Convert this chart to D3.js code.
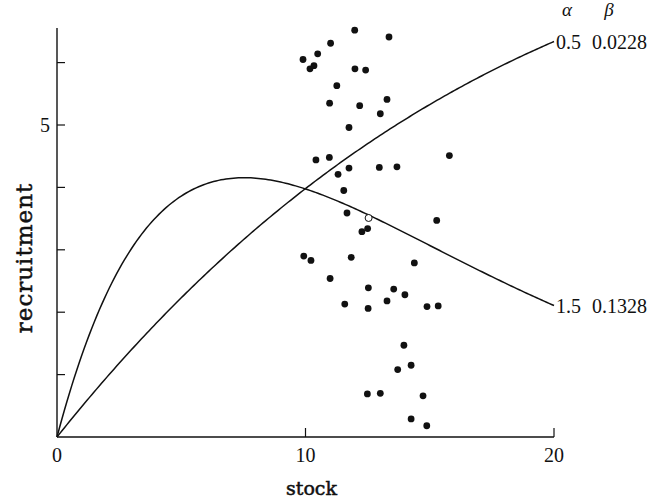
<!DOCTYPE html>
<html>
<head>
<meta charset="utf-8">
<script src="https://cdn.jsdelivr.net/npm/d3@7"></script>
<style>
  html, body { margin: 0; padding: 0; background: #fff; }
  svg text { fill: #111; }
</style>
</head>
<body>
<svg id="chart" width="656" height="502"></svg>
<script>
// observed stock / recruitment pairs (filled dots)
const stock = [
  11.98, 13.36, 11.01, 10.49, 9.90, 10.34, 10.18, 11.99, 12.42, 11.26,
  10.97, 12.18, 13.28, 13.01, 11.75, 10.42, 10.96, 15.79, 11.75, 11.31,
  12.97, 13.68, 11.54, 11.67, 12.50, 12.27, 15.28, 9.93, 10.22, 11.84,
  14.38, 10.99, 12.53, 13.55, 14.00, 11.58, 12.52, 13.28, 14.89, 15.34,
  13.96, 14.25, 13.71, 12.49, 13.01, 14.73, 14.25, 14.88
];
const recruitment = [
  6.52, 6.41, 6.31, 6.14, 6.05, 5.95, 5.90, 5.90, 5.88, 5.63,
  5.35, 5.31, 5.41, 5.18, 4.96, 4.44, 4.48, 4.51, 4.31, 4.21,
  4.32, 4.33, 3.95, 3.59, 3.34, 3.29, 3.47, 2.90, 2.83, 2.88,
  2.79, 2.54, 2.39, 2.37, 2.28, 2.13, 2.06, 2.18, 2.09, 2.10,
  1.47, 1.15, 1.08, 0.69, 0.70, 0.66, 0.29, 0.18
];
// the single open circle
const openStock = [12.54];
const openRecruitment = [3.51];

// Ricker curves R = alpha * S * exp(-beta * S)
const alphas = [0.5, 1.5];
const betas = [0.0228, 0.1328];
const alphaLabels = ["0.5", "1.5"];
const betaLabels = ["0.0228", "0.1328"];

const xTicks = [0, 10, 20];
const yTicks = [1, 2, 3, 4, 5, 6];
const yTickLabels = { 5: "5" };

const svg = d3.select("#chart");
const x0 = 57, x1 = 554, y0 = 437;

const x = d3.scaleLinear().domain([0, 20]).range([x0, x1]);
const y = d3.scaleLinear().domain([0, 5]).range([y0, 125]);

const serif = "'Liberation Serif', 'DejaVu Serif', serif";
const titleFont = "'DejaVu Serif', serif";

// axes
svg.append("line")
  .attr("x1", x0).attr("y1", y0).attr("x2", x0).attr("y2", 28)
  .attr("stroke", "#111").attr("stroke-width", 1.4);
svg.append("line")
  .attr("x1", x0).attr("y1", y0).attr("x2", x1).attr("y2", y0)
  .attr("stroke", "#111").attr("stroke-width", 1.4);

svg.selectAll(".ytick").data(yTicks).enter().append("line")
  .attr("x1", x0).attr("x2", x0 + 8)
  .attr("y1", d => y(d)).attr("y2", d => y(d))
  .attr("stroke", "#111").attr("stroke-width", 1.2);

svg.selectAll(".xtick").data(xTicks.filter(d => d > 0)).enter().append("line")
  .attr("x1", d => x(d)).attr("x2", d => x(d))
  .attr("y1", y0).attr("y2", y0 - 9)
  .attr("stroke", "#111").attr("stroke-width", 1.2);

svg.selectAll(".xlab").data(xTicks).enter().append("text")
  .attr("x", d => x(d)).attr("y", y0 + 25)
  .attr("text-anchor", "middle")
  .style("font-family", serif).style("font-size", "20px")
  .text(d => d);

svg.selectAll(".ylab").data(yTicks.filter(d => yTickLabels[d])).enter().append("text")
  .attr("x", x0 - 12).attr("y", d => y(d))
  .attr("dy", "0.35em")
  .attr("text-anchor", "middle")
  .style("font-family", serif).style("font-size", "20px")
  .text(d => yTickLabels[d]);

// axis titles
svg.append("text")
  .attr("x", x(10) + 6).attr("y", 495)
  .attr("text-anchor", "middle")
  .style("font-family", titleFont).style("font-size", "19px")
  .attr("stroke", "#111").attr("stroke-width", 0.5)
  .text("stock");

svg.append("text")
  .attr("transform", "translate(32,258) rotate(-90)")
  .attr("text-anchor", "middle")
  .style("font-family", titleFont).style("font-size", "23px")
  .style("letter-spacing", "1px")
  .attr("stroke", "#111").attr("stroke-width", 0.5)
  .text("recruitment");

// curves
const sGrid = d3.range(0, 20.001, 0.1);
const line = d3.line().x(d => x(d[0])).y(d => y(d[1]));
alphas.forEach((a, i) => {
  const b = betas[i];
  svg.append("path")
    .datum(sGrid.map(s => [s, a * s * Math.exp(-b * s)]))
    .attr("fill", "none").attr("stroke", "#111").attr("stroke-width", 1.5)
    .attr("d", line);
  const yEnd = y(a * 20 * Math.exp(-b * 20));
  svg.append("text")
    .attr("x", x1 + 2).attr("y", yEnd).attr("dy", "0.35em")
    .style("font-family", serif).style("font-size", "20px")
    .text(alphaLabels[i]);
  svg.append("text")
    .attr("x", x1 + 38).attr("y", yEnd).attr("dy", "0.35em")
    .style("font-family", serif).style("font-size", "20px")
    .text(betaLabels[i]);
});

svg.append("text")
  .attr("x", x1 + 13).attr("y", 16).attr("text-anchor", "middle")
  .style("font-family", serif).style("font-size", "19px").style("font-style", "italic")
  .text("α");
svg.append("text")
  .attr("x", x1 + 55).attr("y", 16).attr("text-anchor", "middle")
  .style("font-family", serif).style("font-size", "19px").style("font-style", "italic")
  .text("β");

// points
svg.selectAll(".dot").data(stock).enter().append("circle")
  .attr("cx", d => x(d)).attr("cy", (d, i) => y(recruitment[i]))
  .attr("r", 3.4).attr("fill", "#111");

svg.selectAll(".open").data(openStock).enter().append("circle")
  .attr("cx", d => x(d)).attr("cy", (d, i) => y(openRecruitment[i]))
  .attr("r", 3.5).attr("fill", "#fff").attr("stroke", "#111").attr("stroke-width", 1);
</script>
</body>
</html>
